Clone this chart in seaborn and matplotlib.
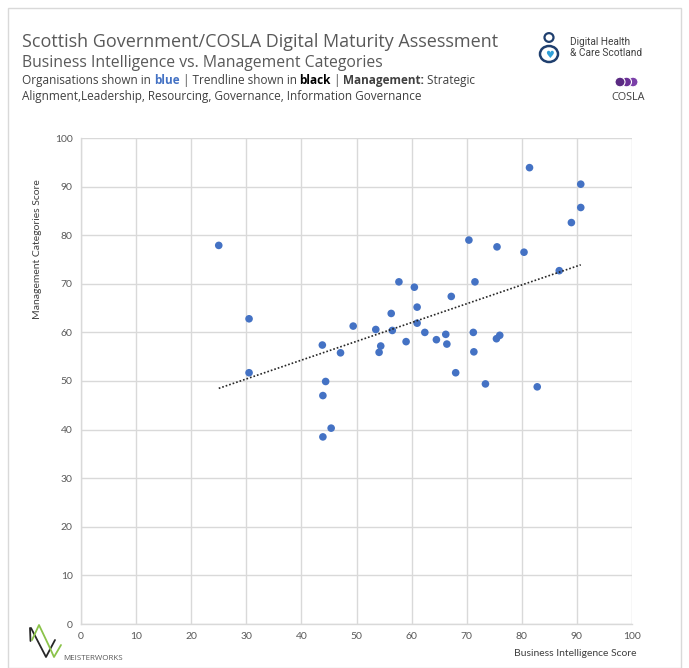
import numpy as np
import pandas as pd
import matplotlib
matplotlib.use("Agg")
import matplotlib.pyplot as plt
import seaborn as sns
from matplotlib.patches import Circle, Rectangle, Ellipse

# ---- data ----
bi_score = [25.0, 30.5, 30.5, 43.8, 44.4, 43.9, 45.4, 43.9, 47.1, 49.4,
            53.5, 54.4, 54.1, 56.3, 56.5, 57.7, 59.0, 60.5, 61.0, 61.0,
            62.4, 64.5, 66.2, 66.4, 67.2, 68.0, 70.4, 71.2, 71.5, 71.3,
            73.4, 75.4, 76.0, 75.5, 80.4, 81.4, 82.8, 86.8, 89.0, 90.7, 90.7]
mgmt_score = [77.9, 62.8, 51.7, 57.4, 49.9, 47.0, 40.3, 38.5, 55.8, 61.3,
              60.6, 57.2, 55.9, 63.9, 60.4, 70.4, 58.1, 69.3, 65.2, 61.9,
              60.0, 58.5, 59.6, 57.6, 67.4, 51.7, 79.0, 60.0, 70.4, 56.0,
              49.4, 58.7, 59.4, 77.6, 76.5, 93.9, 48.8, 72.7, 82.6, 90.5, 85.7]
x_ticks = [0, 10, 20, 30, 40, 50, 60, 70, 80, 90, 100]
y_ticks = [0, 10, 20, 30, 40, 50, 60, 70, 80, 90, 100]

df = pd.DataFrame({"bi": bi_score, "mg": mgmt_score})

sns.set_theme(style="white")
plt.rcParams["font.family"] = ["Open Sans", "DejaVu Sans"]

W, H = 689, 668
fig = plt.figure(figsize=(W / 100, H / 100), dpi=100)
fig.patch.set_facecolor("white")


def fx(px):
    return px / W


def fy(py):
    return 1 - py / H


# frame border
fig.add_artist(Rectangle((fx(8), fy(668)), fx(681) - fx(8), fy(8) - fy(668),
                         transform=fig.transFigure, fill=False,
                         edgecolor="#d9d9d9", lw=1.0))

ax = fig.add_axes([fx(81), fy(624), fx(632) - fx(81), fy(138) - fy(624)])
BLUE = "#4472c4"
GREY = "#595959"
GRID = "#d9d9d9"
LBL = ["Lato", "DejaVu Sans"]

sns.regplot(data=df, x="bi", y="mg", ax=ax, ci=None, truncate=True,
            scatter_kws=dict(s=30, color=BLUE, edgecolor="none", alpha=1, zorder=3),
            line_kws=dict(color="#262626", lw=1.2, ls=(0, (1, 1.2)), zorder=4))

ax.set_xlim(0, 100)
ax.set_ylim(0, 100)
ax.set_xticks(x_ticks)
ax.set_yticks(y_ticks)
ax.set_xticklabels([str(t) for t in x_ticks], fontsize=7.5, color=GREY, family=LBL)
ax.set_yticklabels([str(t) for t in y_ticks], fontsize=7.5, color=GREY, family=LBL)
ax.tick_params(axis="both", length=0, pad=6)
ax.grid(True, color=GRID, lw=1.0)
ax.set_axisbelow(True)
for s in ["top", "right"]:
    ax.spines[s].set_visible(False)
for s in ["left", "bottom"]:
    ax.spines[s].set_color(GRID)
    ax.spines[s].set_linewidth(1.0)
ax.set_xlabel("")
ax.set_ylabel("")

fig.text(fx(38), fy(249), "Management Categories Score", rotation=90,
         ha="center", va="center", fontsize=7.5, color="#404040", family=LBL)
fig.text(fx(637), fy(654), "Business Intelligence Score", ha="right", va="center",
         fontsize=7.5, color="#404040", family=LBL)

# titles
TXT = "#595959"
fig.text(fx(22), fy(47), "Scottish Government/COSLA Digital Maturity Assessment",
         fontsize=12.95, color=TXT, ha="left", va="baseline")
fig.text(fx(22), fy(67), "Business Intelligence vs. Management Categories",
         fontsize=11.3, color=TXT, ha="left", va="baseline")

DESC = "#404040"
parts1 = [("Organisations shown in ", DESC, "normal"),
          ("blue", BLUE, "bold"),
          (" | Trendline shown in ", DESC, "normal"),
          ("black", "#000000", "bold"),
          (" | ", DESC, "normal"),
          ("Management:", DESC, "bold"),
          (" Strategic", DESC, "normal")]
prev = fig.text(fx(22), fy(87), parts1[0][0], fontsize=8.45, color=parts1[0][1],
                ha="left", va="bottom")
for txt, col, wt in parts1[1:]:
    prev = ax.annotate(txt, xy=(1, 0), xycoords=prev, fontsize=8.45, color=col,
                       weight=wt, ha="left", va="bottom", annotation_clip=False)
fig.text(fx(22), fy(103), "Alignment,Leadership, Resourcing, Governance, Information Governance",
         fontsize=8.45, color=DESC, ha="left", va="bottom")

# Digital Health & Care Scotland logo
LOGO = "#1f3f6e"
fig.add_artist(Circle((fx(549), fy(37.5)), 4.5 / W, transform=fig.transFigure,
                      fill=False, edgecolor=LOGO, lw=1.6))
fig.add_artist(Ellipse((fx(549), fy(54)), 18 / W, 16 / H, transform=fig.transFigure,
                       fill=False, edgecolor=LOGO, lw=1.8))
fig.text(fx(549), fy(55), "\u2665", fontsize=7, color="#2e9fd8", ha="center",
         va="center", family=["DejaVu Sans"])
fig.text(fx(570), fy(42), "Digital Health", fontsize=7.3, color="#404040",
         ha="left", va="center", family=["Roboto", "DejaVu Sans"])
fig.text(fx(570), fy(53), "& Care Scotland", fontsize=7.3, color="#404040",
         ha="left", va="center", family=["Roboto", "DejaVu Sans"])
# COSLA logo
for i, c in enumerate(["#5a2a82", "#6a2f96", "#7a3fa8"]):
    fig.add_artist(Circle((fx(620 + i * 6.5), fy(82)), 5 / W, transform=fig.transFigure,
                          facecolor=c, edgecolor="white", lw=0.8, zorder=10 - i))
fig.text(fx(628), fy(97), "COSLA", fontsize=7.8, color="#404040", ha="center",
         va="center")

# Meisterworks logo
fig.add_artist(plt.Line2D([fx(30), fx(30.5)], [fy(628), fy(641)],
                          transform=fig.transFigure, color="#262626", lw=1.3))
fig.add_artist(plt.Line2D([fx(31), fx(46), fx(55)],
                          [fy(628), fy(657), fy(640)],
                          transform=fig.transFigure, color="#262626", lw=1.3))
fig.add_artist(plt.Line2D([fx(32), fx(39), fx(49), fx(54), fx(61)],
                          [fy(640), fy(625), fy(646), fy(657), fy(645)],
                          transform=fig.transFigure, color="#8bc34a", lw=1.3))
fig.text(fx(63), fy(659), "MEISTERWORKS", fontsize=5.8, color="#595959",
         ha="left", va="center")

fig.savefig("out.png", dpi=100, facecolor="white")
